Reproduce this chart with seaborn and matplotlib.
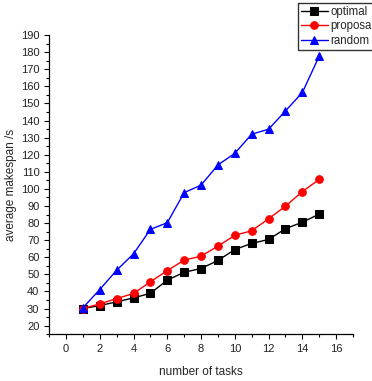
import pandas as pd
import seaborn as sns
import matplotlib.pyplot as plt
from matplotlib.ticker import MultipleLocator

tasks = list(range(1, 16))
optimal = [30, 31.7, 33.9, 36.2, 38.9, 46.6, 51.2, 53.4, 58.1, 64.5, 68.1, 70.4, 76.7, 80.5, 85.2]
proposal = [30, 32.7, 35.8, 38.8, 45.6, 52.2, 58.3, 60.6, 66.5, 72.8, 75.5, 82.5, 89.9, 98.4, 105.6]
random_ = [30.4, 41.1, 52.4, 62.0, 76.3, 80.2, 97.8, 102.2, 114.0, 120.8, 132.0, 134.9, 145.6, 156.4, 177.7]

series = ["optimal", "proposal", "random"]
colors = {"optimal": "black", "proposal": "red", "random": "blue"}
markers = {"optimal": "s", "proposal": "o", "random": "^"}

df = pd.concat([
    pd.DataFrame({"tasks": tasks, "makespan": optimal, "method": "optimal"}),
    pd.DataFrame({"tasks": tasks, "makespan": proposal, "method": "proposal"}),
    pd.DataFrame({"tasks": tasks, "makespan": random_, "method": "random"}),
])

sns.set_style("ticks")
plt.rcParams['font.family'] = ['Liberation Sans', 'DejaVu Sans']

fig = plt.figure(figsize=(3.72, 3.81), dpi=100)
ax = fig.add_axes([0.132, 0.123, 0.817, 0.785])

sns.lineplot(data=df, x="tasks", y="makespan", hue="method", style="method",
             hue_order=series, style_order=series, palette=colors,
             markers=markers, dashes=False, markersize=5.5, linewidth=1,
             ax=ax)
for line in ax.lines:
    line.set_markeredgecolor(line.get_color())

handles, labels = ax.get_legend_handles_labels()
for h in handles:
    h.set_markeredgecolor(h.get_color())
    h.set_markersize(5.5)
ax.get_legend().remove()
leg = fig.legend(handles, labels, loc="upper left", bbox_to_anchor=(0.80, 0.993),
                 fontsize=8.3, frameon=True, fancybox=False, borderpad=0.3,
                 labelspacing=0.2, handlelength=2.3, handletextpad=0.25,
                 borderaxespad=0)
leg.get_frame().set_edgecolor("black")
leg.get_frame().set_linewidth(1.0)

ax.set_xlim(-1, 17)
ax.set_ylim(15, 190)
ax.xaxis.set_major_locator(MultipleLocator(2))
ax.xaxis.set_minor_locator(MultipleLocator(1))
ax.yaxis.set_major_locator(MultipleLocator(10))
ax.yaxis.set_minor_locator(MultipleLocator(5))
ax.tick_params(axis="both", which="major", labelsize=8, length=3.5, width=0.8, direction="out",
               colors="black", labelcolor="#222222")
ax.tick_params(axis="both", which="minor", length=2, width=0.8, direction="out", colors="black")
ax.set_xlabel("number of tasks", fontsize=8.5, labelpad=9)
ax.set_ylabel("average makespan /s", fontsize=8.5, labelpad=3)
sns.despine(ax=ax)
for s in ["left", "bottom"]:
    ax.spines[s].set_linewidth(0.9)
    ax.spines[s].set_color("black")

fig.savefig("out.png", dpi=100)
